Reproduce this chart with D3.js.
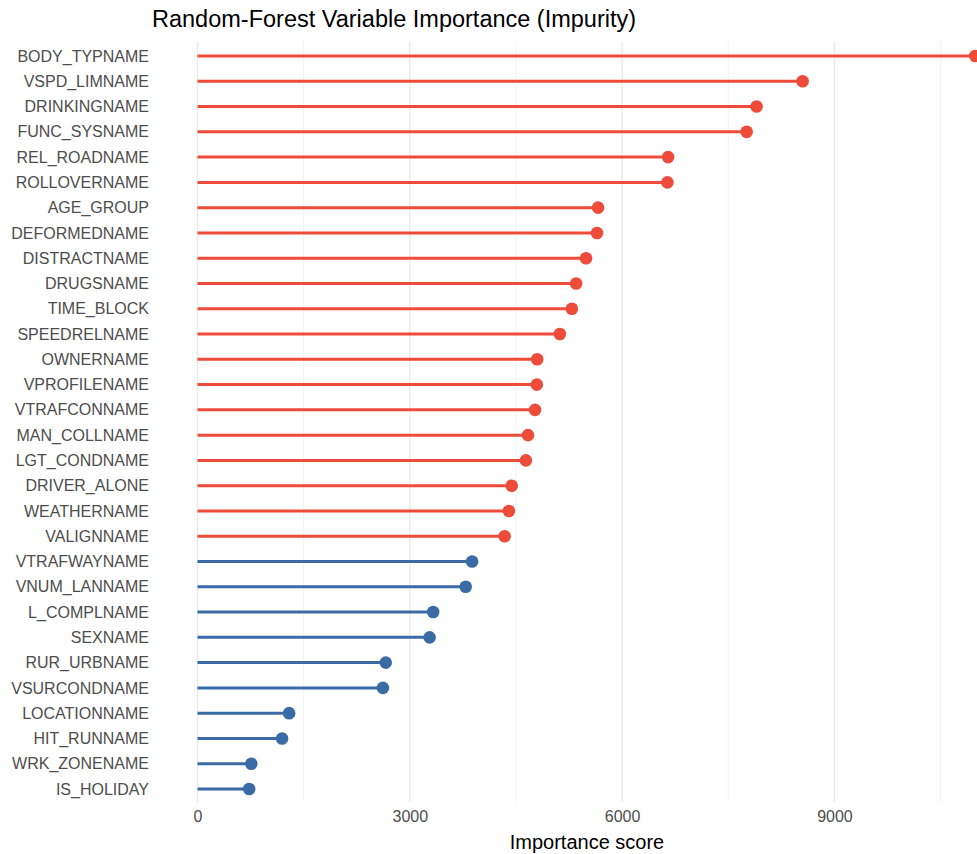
<!DOCTYPE html>
<html>
<head>
<meta charset="utf-8">
<script src="https://cdn.jsdelivr.net/npm/d3@7/dist/d3.min.js"></script>
<style>
  html, body { margin: 0; padding: 0; background: #ffffff; }
  svg { display: block; font-family: "Liberation Sans", Arial, Helvetica, sans-serif; }
</style>
</head>
<body>
<svg id="chart" width="977" height="854"></svg>
<script>
// ---- data ----
const variables = [
  "BODY_TYPNAME","VSPD_LIMNAME","DRINKINGNAME","FUNC_SYSNAME","REL_ROADNAME",
  "ROLLOVERNAME","AGE_GROUP","DEFORMEDNAME","DISTRACTNAME","DRUGSNAME",
  "TIME_BLOCK","SPEEDRELNAME","OWNERNAME","VPROFILENAME","VTRAFCONNAME",
  "MAN_COLLNAME","LGT_CONDNAME","DRIVER_ALONE","WEATHERNAME","VALIGNNAME",
  "VTRAFWAYNAME","VNUM_LANNAME","L_COMPLNAME","SEXNAME","RUR_URBNAME",
  "VSURCONDNAME","LOCATIONNAME","HIT_RUNNAME","WRK_ZONENAME","IS_HOLIDAY"
];
const importance = [
  10990, 8550, 7900, 7760, 6650,
  6640, 5660, 5645, 5490, 5350,
  5290, 5120, 4800, 4795, 4770,
  4670, 4640, 4440, 4400, 4340,
  3880, 3790, 3330, 3280, 2660,
  2620, 1295, 1195, 760, 730
];
const groups = [
  "top","top","top","top","top","top","top","top","top","top",
  "top","top","top","top","top","top","top","top","top","top",
  "rest","rest","rest","rest","rest","rest","rest","rest","rest","rest"
];
const majorTicks = [0, 3000, 6000, 9000];
const minorTicks = [1500, 4500, 7500, 10500];
const titleText = "Random-Forest Variable Importance (Impurity)";
const xTitle = "Importance score";

// ---- drawing ----
const svg = d3.select("#chart");
const colors = d3.scaleOrdinal().domain(["top","rest"]).range(["#ee4b3b","#3b6ba5"]);

const x = d3.scaleLinear().domain([0, 12000]).range([197.5, 197.5 + 12000 * 0.07077]);
const y = d3.scalePoint().domain(variables).range([56, 789]);

const gridTop = 42, gridBottom = 802;

// minor gridlines
svg.append("g").selectAll("line").data(minorTicks).join("line")
  .attr("x1", d => x(d)).attr("x2", d => x(d))
  .attr("y1", gridTop).attr("y2", gridBottom)
  .attr("stroke", "#f2f2f2").attr("stroke-width", 1);

// major gridlines
svg.append("g").selectAll("line").data(majorTicks).join("line")
  .attr("x1", d => x(d)).attr("x2", d => x(d))
  .attr("y1", gridTop).attr("y2", gridBottom)
  .attr("stroke", "#e6e6e6").attr("stroke-width", 1.2);

const data = variables.map((v, i) => ({ name: v, value: importance[i], group: groups[i] }));

// stems
svg.append("g").selectAll("line").data(data).join("line")
  .attr("x1", x(0)).attr("x2", d => x(d.value))
  .attr("y1", d => y(d.name)).attr("y2", d => y(d.name))
  .attr("stroke", d => colors(d.group)).attr("stroke-width", 3);

// dots
svg.append("g").selectAll("circle").data(data).join("circle")
  .attr("cx", d => x(d.value)).attr("cy", d => y(d.name))
  .attr("r", 6.3).attr("fill", d => colors(d.group));

// y axis labels
const yAxis = d3.axisLeft(y).tickSize(0).tickPadding(0);
const gy = svg.append("g").attr("transform", "translate(149,0)").call(yAxis);
gy.select(".domain").remove();
gy.selectAll("text").attr("fill", "#4d4d4d").attr("font-size", "16px")
  .attr("font-family", "'Liberation Sans', Arial, sans-serif");

// x axis labels
const xAxis = d3.axisBottom(x).tickValues(majorTicks).tickSize(0).tickPadding(0).tickFormat(d3.format("d"));
const gx = svg.append("g").attr("transform", "translate(0,811)").call(xAxis);
gx.select(".domain").remove();
gx.selectAll("text").attr("fill", "#4d4d4d").attr("font-size", "16px")
  .attr("font-family", "'Liberation Sans', Arial, sans-serif");

// x title
svg.append("text").attr("x", 587).attr("y", 849).attr("text-anchor", "middle")
  .attr("font-size", "20px").attr("fill", "#000").text(xTitle);

// title
svg.append("text").attr("x", 152).attr("y", 27).attr("font-size", "23.5px")
  .attr("fill", "#000").text(titleText);
</script>
</body>
</html>
